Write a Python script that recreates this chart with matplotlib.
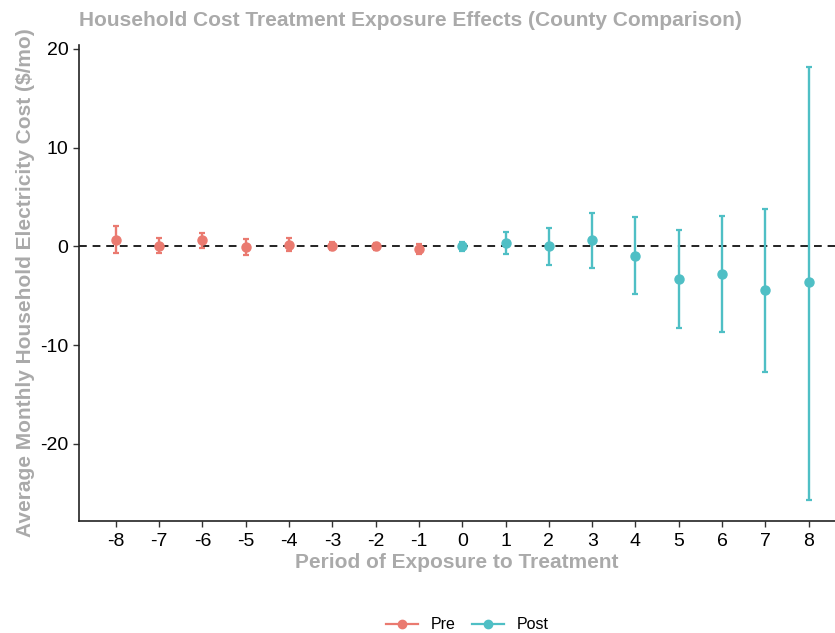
import matplotlib.pyplot as plt
from matplotlib.lines import Line2D
import numpy as np

plt.rcParams["font.family"] = ["Liberation Sans", "DejaVu Sans"]
plt.rcParams["axes.unicode_minus"] = False

# event-study estimates by period relative to treatment
periods = [-8, -7, -6, -5, -4, -3, -2, -1, 0, 1, 2, 3, 4, 5, 6, 7, 8]
estimate = [0.64, 0.03, 0.61, -0.03, 0.17, 0.03, 0.0, -0.27,
            0.0, 0.33, 0.0, 0.64, -0.94, -3.3, -2.8, -4.45, -3.65]
ci_low = [-0.67, -0.67, -0.17, -0.88, -0.47, -0.4, -0.37, -0.74,
          -0.5, -0.77, -1.85, -2.2, -4.8, -8.3, -8.7, -12.7, -25.65]
ci_high = [2.02, 0.81, 1.38, 0.71, 0.81, 0.44, 0.37, 0.24,
           0.47, 1.41, 1.85, 3.4, 2.93, 1.65, 3.07, 3.8, 18.2]
phase = ["Pre"] * 8 + ["Post"] * 9

colors = {"Pre": "#EA7A70", "Post": "#4FBFC5"}
grey = "#AAAAAA"

fig = plt.figure(figsize=(8.35, 6.33), dpi=100)
ax = fig.add_axes([0.0946, 0.177, 0.905, 0.752])

x = np.array(periods)
est = np.array(estimate)
lo = np.array(ci_low)
hi = np.array(ci_high)
ph = np.array(phase)

ax.axhline(0, color="#222222", lw=1.4, ls=(0, (4, 3)), zorder=1)

for name in ["Pre", "Post"]:
    m = ph == name
    ax.errorbar(x[m], est[m], yerr=[est[m] - lo[m], hi[m] - est[m]],
                fmt="o", color=colors[name], ms=6.5,
                elinewidth=1.7, capsize=2, capthick=1.6, zorder=2)

ax.set_xlim(-8.85, 8.6)
ax.set_ylim(-27.8, 20.4)
ax.set_xticks(periods)
ax.set_yticks([-20, -10, 0, 10, 20])
ax.tick_params(labelsize=14, colors="#333333", length=4, width=1,
               labelcolor="black")
ax.tick_params(axis="x", pad=5)

for side in ["top", "right"]:
    ax.spines[side].set_visible(False)
for side in ["left", "bottom"]:
    ax.spines[side].set_linewidth(1.2)
    ax.spines[side].set_color("#222222")

ax.set_xlabel("Period of Exposure to Treatment", fontsize=15,
              fontweight="bold", color=grey, labelpad=2)
ax.set_ylabel("Average Monthly Household Electricity Cost ($/mo)",
              fontsize=15, fontweight="bold", color=grey, labelpad=4)
fig.text(0.0946, 0.968, "Household Cost Treatment Exposure Effects (County Comparison)",
         fontsize=15, fontweight="bold", color=grey, va="center")

handles = [Line2D([0], [0], color=colors[k], marker="o", ms=6, lw=1.6)
           for k in ["Pre", "Post"]]
fig.legend(handles, ["Pre", "Post"], loc="center", bbox_to_anchor=(0.56, 0.013),
           ncol=2, frameon=False, fontsize=11.5, handlelength=2, columnspacing=1.0)

fig.savefig("out.png", dpi=100)
